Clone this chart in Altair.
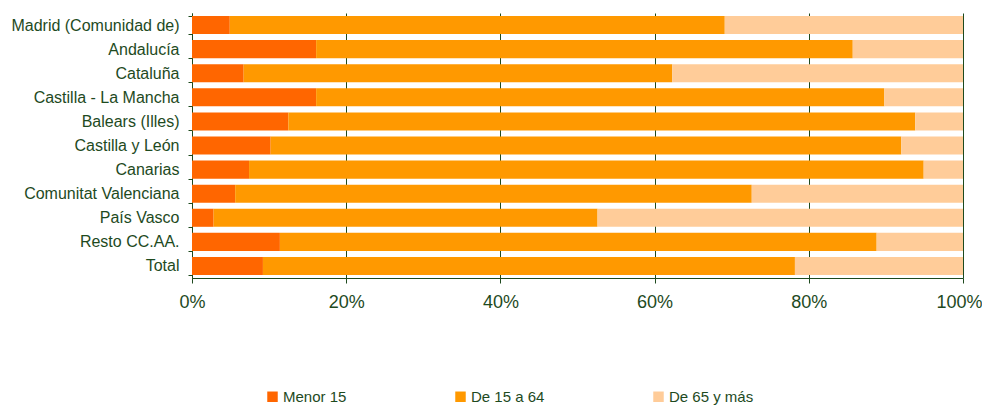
import altair as alt
import pandas as pd

regions = ["Madrid (Comunidad de)", "Andalucía", "Cataluña", "Castilla - La Mancha",
           "Balears (Illes)", "Castilla y León", "Canarias", "Comunitat Valenciana",
           "País Vasco", "Resto CC.AA.", "Total"]
menor15 = [4.9, 16.1, 6.7, 16.1, 12.5, 10.2, 7.4, 5.6, 2.8, 11.4, 9.2]
de15a64 = [64.2, 69.6, 55.6, 73.7, 81.3, 81.8, 87.5, 67.0, 49.8, 77.4, 69.0]
de65 = [30.9, 14.3, 37.7, 10.2, 6.2, 8.0, 5.1, 27.4, 47.4, 11.2, 21.8]
groups = ["Menor 15", "De 15 a 64", "De 65 y más"]
colors = ["#FF6600", "#FF9900", "#FFCC99"]

rows = []
for i, r in enumerate(regions):
    for k, (g, vals) in enumerate(zip(groups, [menor15, de15a64, de65])):
        rows.append({"region": r, "grupo": g, "valor": vals[i] / 100.0, "orden": k})
df = pd.DataFrame(rows)

txt = "#1E4A1E"
font = "Liberation Sans"

chart = alt.Chart(df).mark_bar().encode(
    y=alt.Y("region:N", sort=regions, title=None,
            scale=alt.Scale(paddingInner=0.25, paddingOuter=0.125),
            axis=alt.Axis(labelFont=font, labelFontSize=16, labelColor=txt,
                          domainColor=txt, tickColor=txt, tickSize=4,
                          tickBand="extent", labelPadding=9, grid=False,
                          labelLimit=300)),
    x=alt.X("valor:Q", stack="normalize", title=None,
            scale=alt.Scale(domain=[0, 1], nice=False),
            axis=alt.Axis(format=".0%", values=[0, 0.2, 0.4, 0.6, 0.8, 1.0],
                          labelFont=font, labelFontSize=18, labelColor=txt,
                          labelFlush=False,
                          labelOffset={"condition": {"test": "datum.value >= 1", "value": -4},
                                       "value": 0},
                          domainColor=txt, tickColor=txt, tickSize=5,
                          labelPadding=10, grid=True, gridColor=txt,
                          gridOpacity=1, gridWidth=1)),
    color=alt.Color("grupo:N", sort=groups,
                    scale=alt.Scale(domain=groups, range=colors),
                    legend=alt.Legend(title=None, orient="none", direction="horizontal",
                                      legendX=73, legendY=376,
                                      symbolType="square", symbolSize=110,
                                      symbolStrokeWidth=0, symbolOpacity=1,
                                      labelFont=font, labelFontSize=15, labelColor=txt,
                                      columnPadding=106, labelOffset=3)),
    order=alt.Order("orden:Q"),
).properties(
    width=771, height=265,
    autosize=alt.AutoSizeParams(type="none"),
    padding={"left": 184, "top": 5, "right": 19, "bottom": 128},
).configure_view(stroke=None)

chart.save("out.html", embed_options={"renderer": "svg", "actions": False})
